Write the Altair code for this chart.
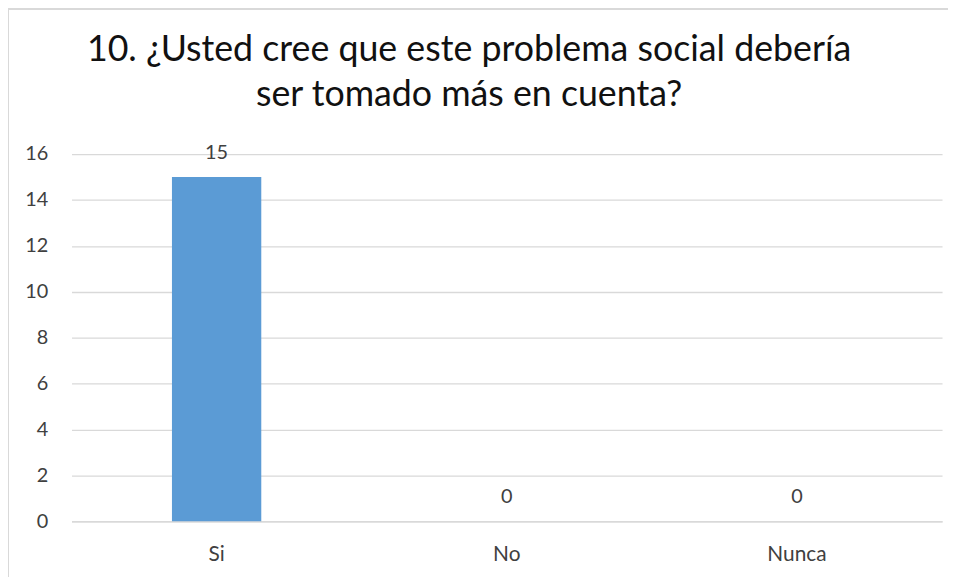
import altair as alt
import pandas as pd

categories = ["Si", "No", "Nunca"]
values = [15, 0, 0]
title_lines = ["10. ¿Usted cree que este problema social debería", "ser tomado más en cuenta?"]
y_ticks = [0, 2, 4, 6, 8, 10, 12, 14, 16]

df = pd.DataFrame({"cat": categories, "val": values})

FONT = "Lato"
GRID = "#d9d9d9"

base = alt.Chart(df)

bars = base.mark_bar(color="#5b9bd5", size=90).encode(
    x=alt.X("cat:N", sort=categories, title=None,
            scale=alt.Scale(paddingInner=0, paddingOuter=0),
            axis=alt.Axis(labelAngle=0, ticks=False, domain=True, domainColor=GRID,
                          domainWidth=1.5, labelPadding=22, labelFontSize=21,
                          labelFont=FONT, labelColor="#404040", grid=False)),
    y=alt.Y("val:Q", title=None, scale=alt.Scale(domain=[0, 16], nice=False),
            axis=alt.Axis(values=y_ticks, ticks=False, domain=False, grid=True,
                          gridColor=GRID, gridWidth=1.3, labelPadding=24,
                          labelFontSize=20, labelFont=FONT, labelColor="#404040")),
)

labels = base.mark_text(dy=-18, baseline="alphabetic", fontSize=20, font=FONT,
                        color="#404040").encode(
    x=alt.X("cat:N", sort=categories),
    y=alt.Y("val:Q"),
    text=alt.Text("val:Q"),
)

border_df = pd.DataFrame({"a": [0]})
left_border = alt.Chart(border_df).mark_rule(color=GRID, strokeWidth=2).encode(
    x=alt.value(-64), y=alt.value(-146), y2=alt.value(500))
top_border = alt.Chart(border_df).mark_rule(color=GRID, strokeWidth=2).encode(
    x=alt.value(-64), x2=alt.value(1000), y=alt.value(-146))

chart = alt.layer(left_border, top_border, bars, labels).properties(
    width=877, height=370,
    title=alt.TitleParams(text=title_lines, fontSize=36, font=FONT, color="#111111",
                          fontWeight="normal", anchor="middle", frame="group",
                          lineHeight=46, offset=0, dx=-38, dy=107),
    autosize=alt.AutoSizeParams(type="none"),
    padding={"left": 64, "top": 145, "right": 6, "bottom": 54},
).configure(background="white").configure_view(stroke=None)

chart.save("out.html", embed_options={"renderer": "svg", "actions": False})
